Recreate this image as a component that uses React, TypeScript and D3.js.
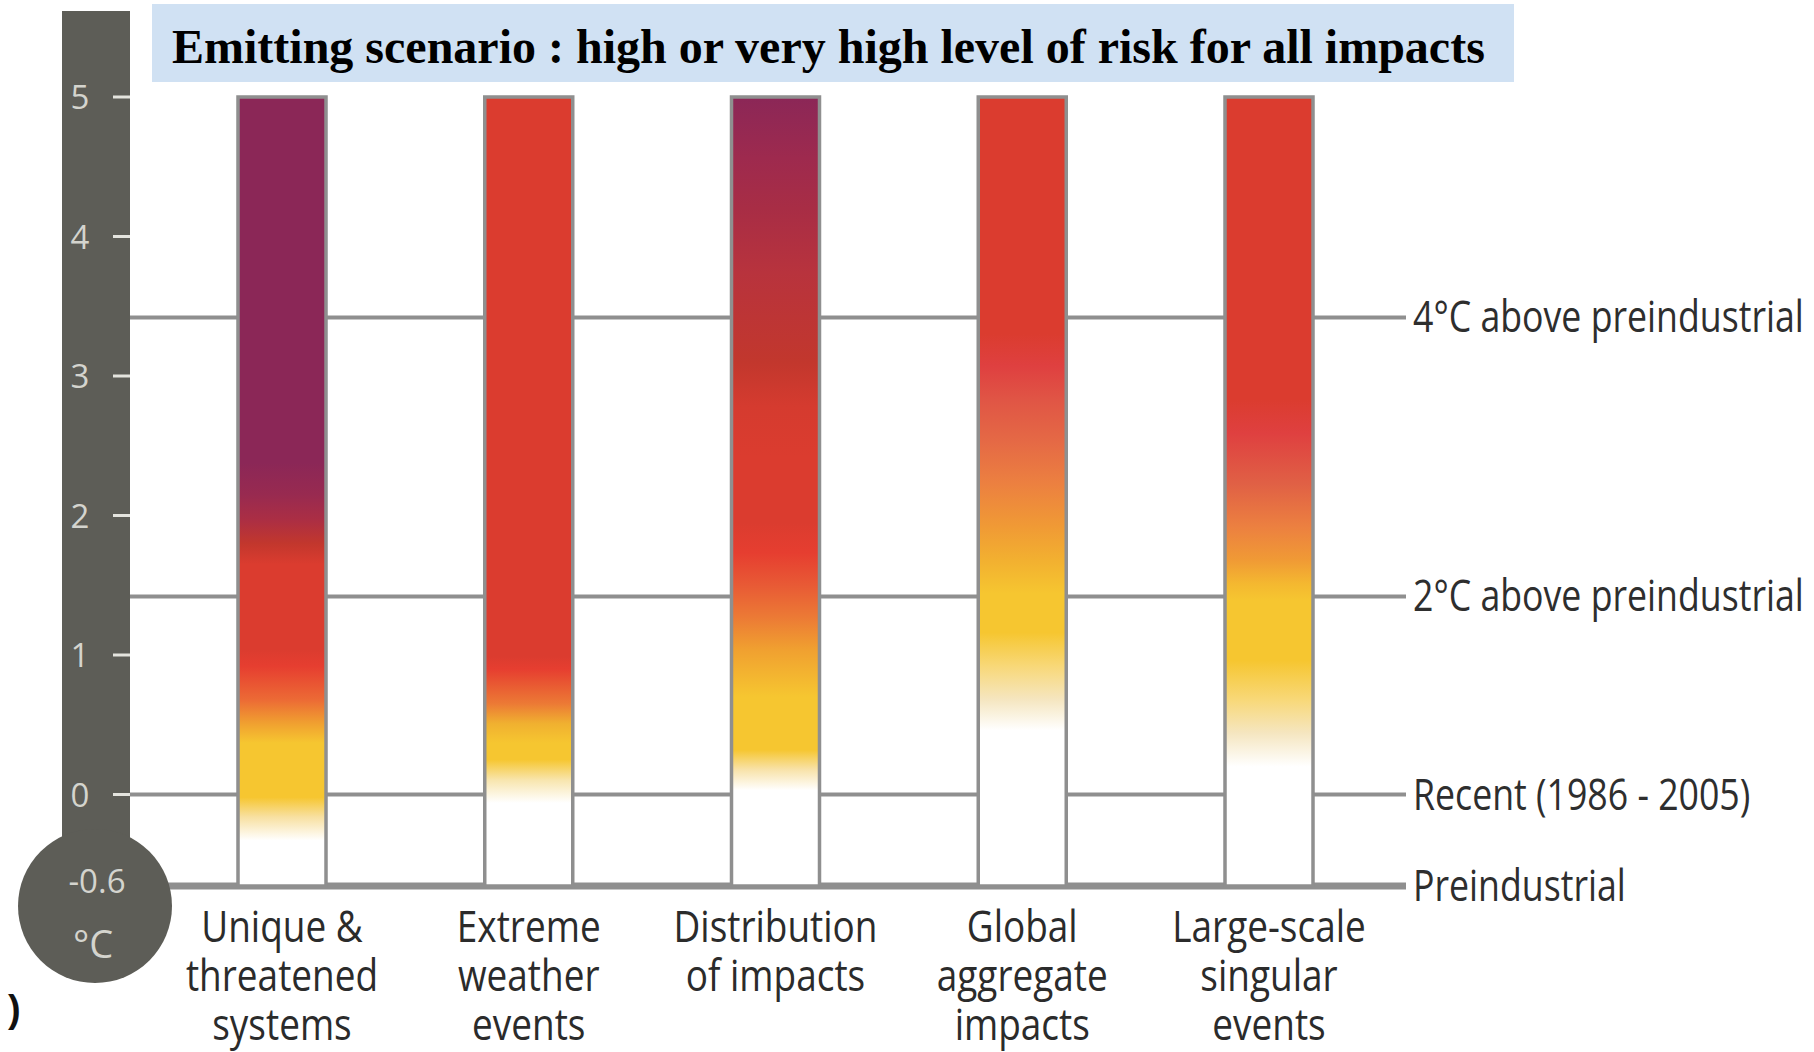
import React from "react";
import * as d3 from "d3";

const titleText = "Emitting scenario : high or very high level of risk for all impacts";

const categories = [
  "Unique & threatened systems",
  "Extreme weather events",
  "Distribution of impacts",
  "Global aggregate impacts",
  "Large-scale singular events",
];

const categoryLines = [
  ["Unique &", "threatened", "systems"],
  ["Extreme", "weather", "events"],
  ["Distribution", "of impacts"],
  ["Global", "aggregate", "impacts"],
  ["Large-scale", "singular", "events"],
];

// risk colour stops: [temperature change since 1986-2005 (°C), colour]
const uniqueStops: [number, string][] = [
  [5, "#8b2757"], [2.38, "#8b2757"], [2.15, "#982a50"], [1.97, "#ab2e44"], [1.8, "#c2372d"],
  [1.65, "#db3c2f"], [1.04, "#db3c2f"], [0.92, "#e63e30"], [0.68, "#ec6a35"], [0.51, "#f0a030"],
  [0.37, "#f6c630"], [-0.02, "#f6c630"], [-0.16, "#f8e0a0"], [-0.33, "#ffffff"],
];
const extremeStops: [number, string][] = [
  [5, "#db3c2f"], [0.99, "#db3c2f"], [0.9, "#e63e30"], [0.65, "#ec7a35"], [0.51, "#f0b030"],
  [0.37, "#f6c630"], [0.25, "#f6c630"], [0.1, "#f8e6b0"], [-0.06, "#ffffff"],
];
const distributionStops: [number, string][] = [
  [5, "#8b2757"], [4.56, "#9e2a4e"], [4.2, "#a82d45"], [3.74, "#b8333d"], [3.1, "#c2372d"],
  [2.78, "#d53b2f"], [2.42, "#db3c2f"], [1.95, "#db3c2f"], [1.73, "#e63e30"], [1.5, "#e85a35"],
  [1.27, "#ec7a35"], [1.04, "#f0a030"], [0.7, "#f6c630"], [0.32, "#f6c630"], [0.18, "#f8e2a8"],
  [0.03, "#ffffff"],
];
const globalStops: [number, string][] = [
  [5, "#db3c2f"], [3.3, "#db3c2f"], [3.07, "#df4040"], [2.83, "#e05545"], [2.52, "#e56a45"],
  [2.23, "#ec8040"], [1.92, "#f09a35"], [1.68, "#f2b030"], [1.44, "#f6c630"], [1.16, "#f6c630"],
  [0.92, "#f8d878"], [0.68, "#f5e6c0"], [0.46, "#ffffff"],
];
const singularStops: [number, string][] = [
  [5, "#db3c2f"], [2.83, "#db3c2f"], [2.59, "#df4040"], [2.23, "#e06045"], [1.92, "#ec8040"],
  [1.68, "#f09a35"], [1.51, "#f4b830"], [1.39, "#f6c630"], [0.96, "#f6c630"], [0.68, "#f8d878"],
  [0.44, "#f5e6c0"], [0.2, "#ffffff"],
];
const riskStops = [uniqueStops, extremeStops, distributionStops, globalStops, singularStops];

const barTop = 5;
const tickValues = [0, 1, 2, 3, 4, 5];

const refLabels = ["4°C above preindustrial", "2°C above preindustrial", "Recent (1986 - 2005)", "Preindustrial"];
const refValues = [3.42, 1.42, 0, -0.656];

const bulbLabel = "-0.6";
const unitLabel = "°C";

const LABEL_FONT = "'Open Sans', 'Noto Sans', sans-serif";
const GRID = "#8f8f8f";
const STEM = "#5d5d57";
const THERMO_TEXT = "#d4d4ce";

export default function App() {
  const y = d3.scaleLinear().domain([0, 5]).range([794.5, 97]);
  const x = d3.scalePoint<string>().domain(categories).range([282, 1269]);
  const barW = 88;
  const axisVal = refValues[refValues.length - 1];
  const lineX0 = 130;
  const lineX1 = 1406;

  return (
    <svg width={1814} height={1052} style={{ position: "absolute", left: 0, top: 0, background: "#fff" }}>
      <defs>
        {categories.map((c, i) => {
          const y1 = y(barTop);
          const y2 = y(axisVal);
          return (
            <linearGradient key={c} id={`risk${i}`} gradientUnits="userSpaceOnUse" x1={0} x2={0} y1={y1} y2={y2}>
              {riskStops[i].map(([v, col], j) => (
                <stop key={j} offset={(y(v) - y1) / (y2 - y1)} stopColor={col} />
              ))}
            </linearGradient>
          );
        })}
      </defs>

      {/* title */}
      <rect x={152} y={4} width={1362} height={78} fill="#d0e1f3" />
      <text x={172} y={63} fontFamily="'Liberation Serif', 'Times New Roman', serif" fontWeight="bold" fontSize={48} fill="#000">
        {titleText}
      </text>

      {/* reference lines */}
      {refValues.map((v, i) => (
        <line key={i} x1={lineX0} x2={lineX1} y1={y(v)} y2={y(v)} stroke={GRID} strokeWidth={i === refValues.length - 1 ? 7 : 4} />
      ))}
      {refLabels.map((t, i) => (
        <text key={t} transform={`translate(1413,${y(refValues[i]) + 15}) scale(0.83,1)`} fontFamily={LABEL_FONT} fontSize={43} fill="#2e2e2e">
          {t}
        </text>
      ))}

      {/* bars */}
      {categories.map((c, i) => (
        <rect key={c} x={(x(c) as number) - barW / 2} y={y(barTop)} width={barW} height={y(axisVal) - y(barTop)}
          fill={`url(#risk${i})`} stroke={GRID} strokeWidth={3.5} />
      ))}

      {/* category labels */}
      {categories.map((c, i) => (
        <g key={c} transform={`translate(${(x(c) as number) * 0.16},0) scale(0.84,1)`}>
          <text textAnchor="middle" fontFamily={LABEL_FONT} fontSize={44} fill="#2b2b2b">
            {categoryLines[i].map((ln, j) => (
              <tspan key={j} x={x(c)} y={942 + j * 49}>{ln}</tspan>
            ))}
          </text>
        </g>
      ))}

      {/* thermometer */}
      <rect x={62} y={11} width={68} height={860} fill={STEM} />
      <circle cx={95} cy={906} r={77} fill={STEM} />
      {tickValues.map((t) => (
        <g key={t}>
          <line x1={113} x2={130} y1={y(t)} y2={y(t)} stroke="#e4e4de" strokeWidth={3} />
          <text x={80} y={y(t) + 12} textAnchor="middle" fontFamily={LABEL_FONT} fontSize={33} fill={THERMO_TEXT}>
            {t}
          </text>
        </g>
      ))}
      <text x={97} y={893} textAnchor="middle" fontFamily={LABEL_FONT} fontSize={33} fill={THERMO_TEXT}>{bulbLabel}</text>
      <text x={93} y={958} textAnchor="middle" fontFamily={LABEL_FONT} fontSize={38} fill={THERMO_TEXT}>{unitLabel}</text>
      <text x={8} y={1022} fontFamily="'Liberation Sans', sans-serif" fontWeight="bold" fontSize={38} fill="#111">)</text>
    </svg>
  );
}
